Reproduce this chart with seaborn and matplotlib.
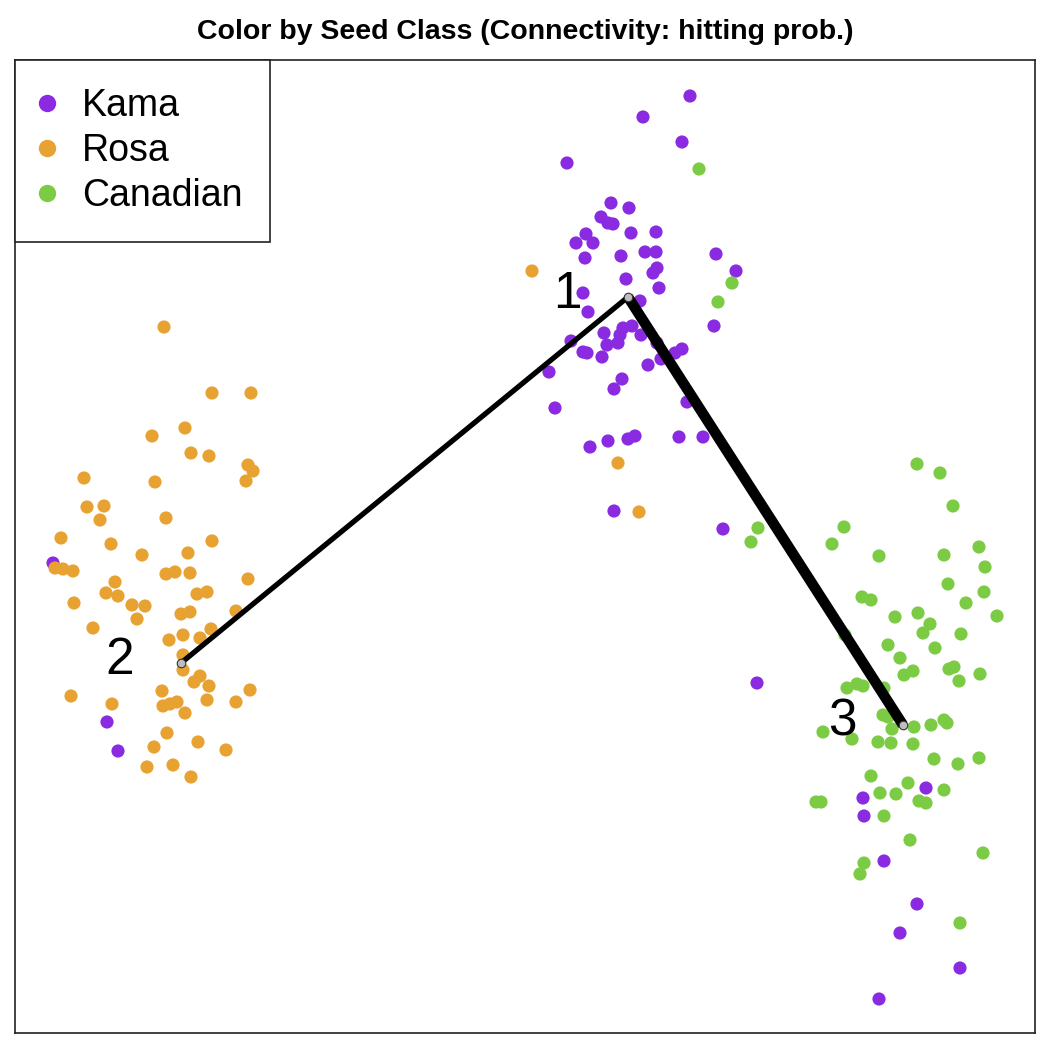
import matplotlib
matplotlib.use("Agg")
import matplotlib.pyplot as plt
import pandas as pd
import seaborn as sns
from matplotlib.lines import Line2D

# embedding coordinates (screen-like units, y grows downward)
kama_x = [690, 643, 682, 567, 611, 629, 601, 608, 613, 586, 576, 593, 631, 656, 585, 621, 645, 656, 716, 657,
          653, 736, 626, 659, 583, 640,
          588, 714, 632, 623, 604, 620, 641, 571, 607, 618, 657, 682, 675, 583, 587, 602, 661, 648, 549, 622,
          614, 687, 555, 635, 628, 608, 590, 679, 703, 614, 723,
          53, 107, 118,
          757, 926, 863, 864, 884, 917, 900, 960, 879]
kama_y = [96, 117, 142, 163, 203, 208, 217, 223, 224, 234, 243, 243, 233, 232, 258, 256, 252, 252, 254, 268,
          273, 271, 279, 288, 293, 301,
          312, 326, 326, 328, 333, 335, 335, 341, 345, 343, 343, 349, 353, 352, 353, 357, 359, 365, 372, 379,
          389, 402, 408, 436, 439, 441, 447, 437, 437, 511, 529,
          563, 722, 751,
          683, 788, 798, 816, 861, 904, 933, 968, 999]

rosa_x = [532, 618, 639,
          164, 212, 251, 185, 152, 191, 209, 248, 253, 246, 84, 155, 87, 104, 100, 166, 61, 111, 142, 188, 212,
          55, 63, 73, 166, 175, 190, 248, 115, 106, 118, 74, 132, 145, 197, 207, 181, 190, 236, 137, 93, 211,
          183, 169, 200, 183, 183, 200, 194, 209, 250, 71, 162, 207, 236, 112, 163, 170, 177, 185, 167, 154,
          198, 226, 147, 173, 191]
rosa_y = [271, 463, 512,
          327, 393, 393, 428, 436, 453, 456, 465, 471, 481, 478, 482, 507, 506, 520, 518, 538, 544, 555, 553, 541,
          568, 569, 571, 574, 572, 573, 579, 582, 593, 596, 603, 605, 606, 594, 592, 614, 612, 611, 619, 628, 629,
          635, 640, 638, 655, 670, 676, 682, 686, 690, 696, 691, 700, 702, 704, 706, 704, 702, 713, 733, 747,
          742, 750, 767, 765, 777]

canadian_x = [699, 732, 718, 758, 751,
              917, 940, 953, 844, 832, 879, 944, 979, 985, 948, 984, 862, 871, 966, 997, 895, 918, 930, 923,
              961, 845, 888, 935,
              900, 904, 913, 949, 954, 980, 959, 847, 857, 863, 884, 883, 888, 892, 914, 931, 944, 947, 823,
              852, 878, 891, 913, 934, 958, 979, 871, 908, 944, 880, 896, 816, 821, 919, 926, 884, 910,
              983, 864, 860, 960]
canadian_y = [169, 283, 302, 528, 542,
              464, 473, 506, 527, 544, 556, 555, 547, 567, 584, 592, 597, 600, 603, 616, 617, 613, 624, 633,
              634, 635, 645, 648,
              658, 675, 671, 669, 667, 674, 681, 688, 684, 686, 688, 715, 717, 729, 727, 725, 720, 723, 732,
              739, 742, 743, 744, 759, 764, 758, 776, 783, 790, 793, 794, 802, 802, 801, 803, 816, 840,
              853, 863, 874, 923]

classes = ["Kama", "Rosa", "Canadian"]
colors = ["#8A2BE2", "#E8A231", "#7BCB45"]

# cluster nodes and connectivity (hitting probability) between them
node_labels = ["1", "2", "3"]
node_x = [628, 181, 903]
node_y = [297, 663, 725]
edges = [(0, 1), (0, 2), (1, 2)]
edge_weight = [0.5, 1.0, 0.0]

df = pd.DataFrame({
    "x": kama_x + rosa_x + canadian_x,
    "y": kama_y + rosa_y + canadian_y,
    "seed": ["Kama"] * len(kama_x) + ["Rosa"] * len(rosa_x) + ["Canadian"] * len(canadian_x),
})

sns.set_style("white")
plt.rcParams["font.family"] = ["Liberation Sans", "DejaVu Sans"]
plt.rcParams["text.color"] = "black"

fig = plt.figure(figsize=(10.5, 10.5), dpi=100)
ax = fig.add_axes([15 / 1050, 1 - 1033 / 1050, 1020 / 1050, 973 / 1050])

sns.scatterplot(data=df, x="x", y="y", hue="seed", hue_order=classes, palette=colors,
                s=90, linewidth=0, ax=ax, legend=False, zorder=2)

for (a, b), w in zip(edges, edge_weight):
    if w > 0:
        ax.plot([node_x[a], node_x[b]], [node_y[a], node_y[b]], color="black",
                lw=7.6 * w, solid_capstyle="butt", zorder=3)
ax.scatter(node_x, node_y, s=38, color="#BEBEBE", edgecolor="#333333", linewidth=0.8, zorder=4)
for lab, nx, ny in zip(node_labels, node_x, node_y):
    ax.annotate(lab, (nx, ny), xytext=(-44, 2), textcoords="offset points",
                ha="center", va="center", fontsize=37, color="black", zorder=5)

ax.set_xlim(15, 1035)
ax.set_ylim(1033, 60)
ax.set_xticks([])
ax.set_yticks([])
ax.set_xlabel("")
ax.set_ylabel("")
for sp in ax.spines.values():
    sp.set_color("#222222")
    sp.set_linewidth(1.2)

handles = [Line2D([], [], marker="o", linestyle="", markersize=12.5, markerfacecolor=c,
                  markeredgewidth=0) for c in colors]
leg = ax.legend(handles, classes, loc="upper left", borderaxespad=0, fontsize=27,
                frameon=True, fancybox=False, framealpha=1, edgecolor="#222222",
                borderpad=0.74, labelspacing=0.25, handlelength=0.25, handletextpad=0.8)
leg.get_frame().set_linewidth(1.2)
for t in leg.get_texts():
    t.set_color("black")

fig.text(0.5, 1 - 32 / 1050, "Color by Seed Class (Connectivity: hitting prob.)",
         ha="center", va="center", fontsize=20.5, fontweight="bold", color="black")

fig.savefig("out.png", dpi=100)
